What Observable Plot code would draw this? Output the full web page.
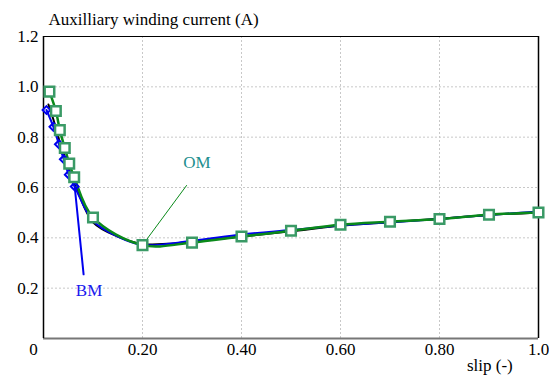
<!DOCTYPE html>
<html><head><meta charset="utf-8">
<script src="https://cdn.jsdelivr.net/npm/d3@7"></script>
<script src="https://cdn.jsdelivr.net/npm/@observablehq/plot@0.6"></script>
<style>body{margin:0;background:#fff;}</style>
</head><body><div id="chart"></div>
<script>
const title = "Auxilliary winding current (A)";
const xLabel = "slip (-)";
const xTicks = [0.2, 0.4, 0.6, 0.8];
const xTickLabels = ["0.20", "0.40", "0.60", "0.80"];
const xEndTicks = [0, 1.0];
const xEndLabels = ["0", "1.0"];
const yTicks = [0.2, 0.4, 0.6, 0.8, 1.0, 1.2];
const yTickLabels = ["0.2", "0.4", "0.6", "0.8", "1.0", "1.2"];

// OM (green squares)
const omSlip = [0.012, 0.025, 0.033, 0.043, 0.052, 0.062, 0.1, 0.2, 0.3, 0.4, 0.5, 0.6, 0.7, 0.8, 0.9, 1.0];
const omCurrent = [0.981, 0.904, 0.828, 0.757, 0.695, 0.641, 0.481, 0.371, 0.381, 0.405, 0.428, 0.452, 0.464, 0.475, 0.492, 0.501];
// BM (blue diamonds, marked at low slip)
const bmMarkSlip = [0.006, 0.02, 0.031, 0.041, 0.051, 0.063];
const bmMarkCurrent = [0.908, 0.841, 0.772, 0.712, 0.651, 0.604];
const bmLineSlip = [0.006, 0.02, 0.031, 0.041, 0.051, 0.063, 0.1, 0.15, 0.2, 0.3, 0.4, 0.5, 0.6, 0.7, 0.8, 0.9, 1.0];
const bmLineCurrent = [0.908, 0.841, 0.772, 0.712, 0.651, 0.604, 0.468, 0.405, 0.372, 0.388, 0.413, 0.431, 0.449, 0.462, 0.475, 0.491, 0.505];
// Reference (black)
const refSlip = [0.01, 0.02, 0.03, 0.04, 0.05, 0.06, 0.07, 0.1, 0.15, 0.2, 0.25, 0.3, 0.4, 0.5, 0.6, 0.7, 0.8, 0.9, 1.0];
const refCurrent = [0.93, 0.87, 0.8, 0.74, 0.68, 0.625, 0.58, 0.462, 0.405, 0.376, 0.376, 0.385, 0.405, 0.426, 0.448, 0.462, 0.476, 0.491, 0.5];

const om = omSlip.map((s, i) => ({s, c: omCurrent[i]}));
const bmMarks = bmMarkSlip.map((s, i) => ({s, c: bmMarkCurrent[i]}));
const bmLine = bmLineSlip.map((s, i) => ({s, c: bmLineCurrent[i]}));
const ref = refSlip.map((s, i) => ({s, c: refCurrent[i]}));

const omLabel = {s: 0.31, c: 0.70, text: "OM"};
const omLeader = [{s: 0.289, c: 0.608}, {s: 0.2, c: 0.371}];
const bmLabel = {s: 0.092, c: 0.19, text: "BM"};
const bmLeader = [{s: 0.081, c: 0.255}, {s: 0.063, c: 0.604}];

const font = "Liberation Serif";

const chart = Plot.plot({
  width: 549, height: 376,
  marginLeft: 43, marginRight: 11, marginTop: 36, marginBottom: 38,
  style: "font-family: 'Liberation Serif', serif; font-size: 17px; background: #fff; color: #000;",
  x: {domain: [0, 1]},
  y: {domain: [0, 1.2]},
  marks: [
    Plot.gridX(xTicks, {stroke: "#c8c8c8", strokeOpacity: 1, strokeDasharray: "2,2"}),
    Plot.gridY([0.2, 0.4, 0.6, 0.8, 1.0], {stroke: "#c8c8c8", strokeOpacity: 1, strokeDasharray: "2,2"}),
    Plot.axisX({ticks: xTicks, tickSize: 0, tickPadding: 4, tickFormat: (d) => xTickLabels[xTicks.findIndex(t => Math.abs(t - d) < 1e-9)], fontSize: 17, fontFamily: font, label: null}),
    Plot.text(xEndTicks, {x: d => d, y: 0, text: (d, i) => xEndLabels[i], dy: 4, lineAnchor: "top", fontSize: 17, fontFamily: font, textAnchor: "middle"}),
    Plot.axisY({ticks: yTicks, tickSize: 0, tickPadding: 5, tickFormat: (d) => yTickLabels[yTicks.findIndex(t => Math.abs(t - d) < 1e-9)], fontSize: 17, fontFamily: font, label: null}),
    Plot.ruleY([0], {stroke: "#777", strokeWidth: 2}),
    Plot.ruleY([1.2], {stroke: "#000", strokeWidth: 1.2}),
    Plot.ruleX([0], {stroke: "#000", strokeWidth: 1.5}),
    Plot.ruleX([1], {stroke: "#000", strokeWidth: 1.5}),
    Plot.line(ref, {x: "s", y: "c", stroke: "#000", strokeWidth: 2, curve: "catmull-rom"}),
    Plot.line(bmLine, {x: "s", y: "c", stroke: "#0000ee", strokeWidth: 2, curve: "catmull-rom"}),
    Plot.line(om, {x: "s", y: "c", stroke: "#0a8a1a", strokeWidth: 2.5, curve: "catmull-rom"}),
    Plot.line(omLeader, {x: "s", y: "c", stroke: "#0a8a1a", strokeWidth: 1}),
    Plot.line(bmLeader, {x: "s", y: "c", stroke: "#0000ee", strokeWidth: 2}),
    Plot.dot(bmMarks, {x: "s", y: "c", symbol: "diamond2", r: 3.5, stroke: "#0000ee", strokeWidth: 2, fill: "none"}),
    Plot.dot(om, {x: "s", y: "c", symbol: "square", r: 5.4, stroke: "#3a9a66", strokeWidth: 2.5, fill: "#fff"}),
    Plot.text([omLabel], {x: "s", y: "c", text: "text", fill: "#1f8f8f", fontSize: 17, fontFamily: font}),
    Plot.text([bmLabel], {x: "s", y: "c", text: "text", fill: "#1a1aee", fontSize: 17, fontFamily: font}),
    Plot.text([title], {x: 0, y: 1.2, text: d => d, textAnchor: "start", dx: 5, dy: -17, fontSize: 17, fontFamily: font}),
    Plot.text([xLabel], {x: 0.948, y: 0, text: d => d, textAnchor: "end", dy: 27, fontSize: 17, fontFamily: font})
  ]
});
// nudge the two end labels of the x axis as in the reference
d3.select(chart).selectAll("text").filter(function() { return this.textContent === "0"; }).attr("dx", -10);
d3.select(chart).selectAll("text").filter(function() { return this.textContent === "1.0" && +this.getAttribute("y") > 300; }).attr("dx", -6);
document.getElementById("chart").appendChild(chart);
</script>
</body></html>
